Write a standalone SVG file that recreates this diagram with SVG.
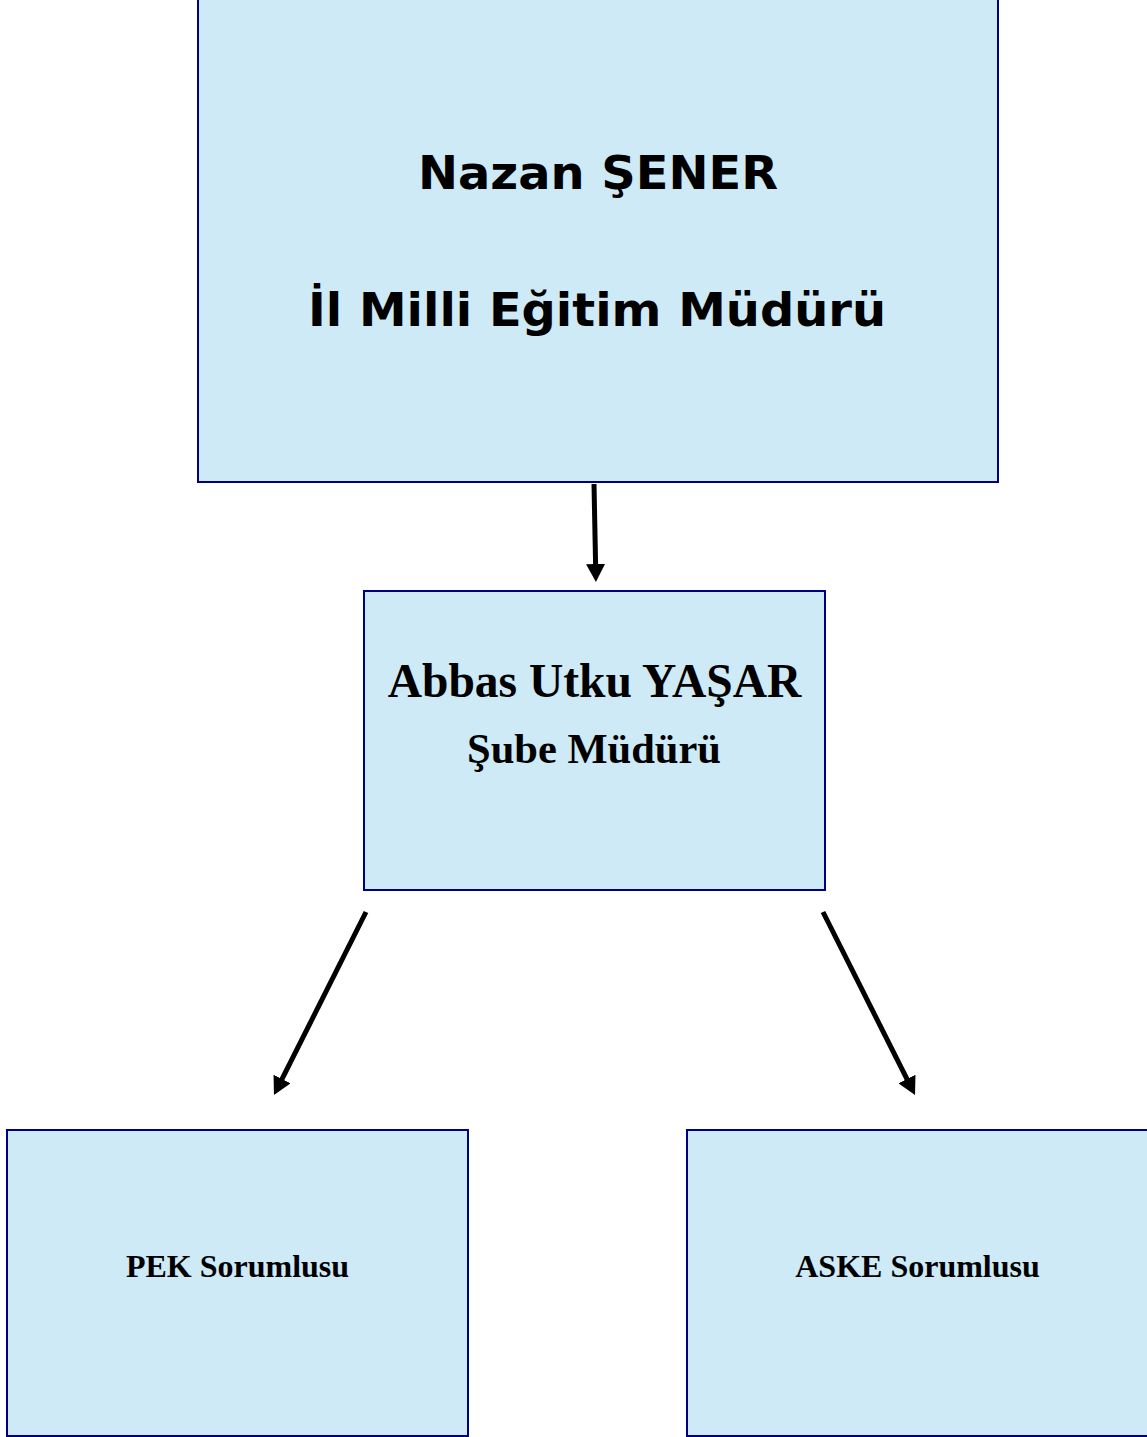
<svg xmlns="http://www.w3.org/2000/svg" width="1147" height="1437" viewBox="0 0 1147 1437">
<style>
.box{fill:#cdeaf6;stroke:#000080;stroke-width:2}
.t1{font-family:"DejaVu Sans","Liberation Sans",sans-serif;font-weight:bold;font-size:47px;fill:#000;text-anchor:middle}
.ser{font-family:"Liberation Serif","Times New Roman",serif;font-weight:bold;fill:#000;text-anchor:middle}
.conn{stroke:#000;stroke-width:5;fill:none}
</style>
<defs>
<marker id="ah" markerUnits="userSpaceOnUse" markerWidth="19" markerHeight="19" viewBox="0 0 19 19" refX="1" refY="9.5" orient="auto">
<path d="M0,0 L18,9.5 L0,19 Z" fill="#000"/>
</marker>
</defs>
<rect width="1147" height="1437" fill="#fff"/>
<g id="node-il-mudur">
<rect class="box" x="198" y="-10" width="800" height="492"/>
<text class="t1" x="598" y="189" textLength="360" lengthAdjust="spacingAndGlyphs">Nazan ŞENER</text>
<text class="t1" x="597" y="326" textLength="578" lengthAdjust="spacingAndGlyphs">İl Milli Eğitim Müdürü</text>
</g>
<g id="node-sube-mudur">
<rect class="box" x="364" y="591" width="461" height="299"/>
<text class="ser" x="594.5" y="697" font-size="47.5">Abbas Utku YAŞAR</text>
<text class="ser" x="594" y="763" font-size="42.5">Şube Müdürü</text>
</g>
<g id="node-pek">
<rect class="box" x="7" y="1130" width="461" height="306"/>
<text class="ser" x="237.5" y="1277" font-size="32">PEK Sorumlusu</text>
</g>
<g id="node-aske">
<rect class="box" x="687" y="1130" width="470" height="306"/>
<text class="ser" x="917.5" y="1277" font-size="32">ASKE Sorumlusu</text>
</g>
<g id="connectors">
<line class="conn" x1="594" y1="484" x2="595.6" y2="565" marker-end="url(#ah)"/>
<line class="conn" x1="366" y1="912" x2="281.6" y2="1079.9" marker-end="url(#ah)"/>
<line class="conn" x1="823" y1="912" x2="907.4" y2="1079.9" marker-end="url(#ah)"/>
</g>
</svg>
